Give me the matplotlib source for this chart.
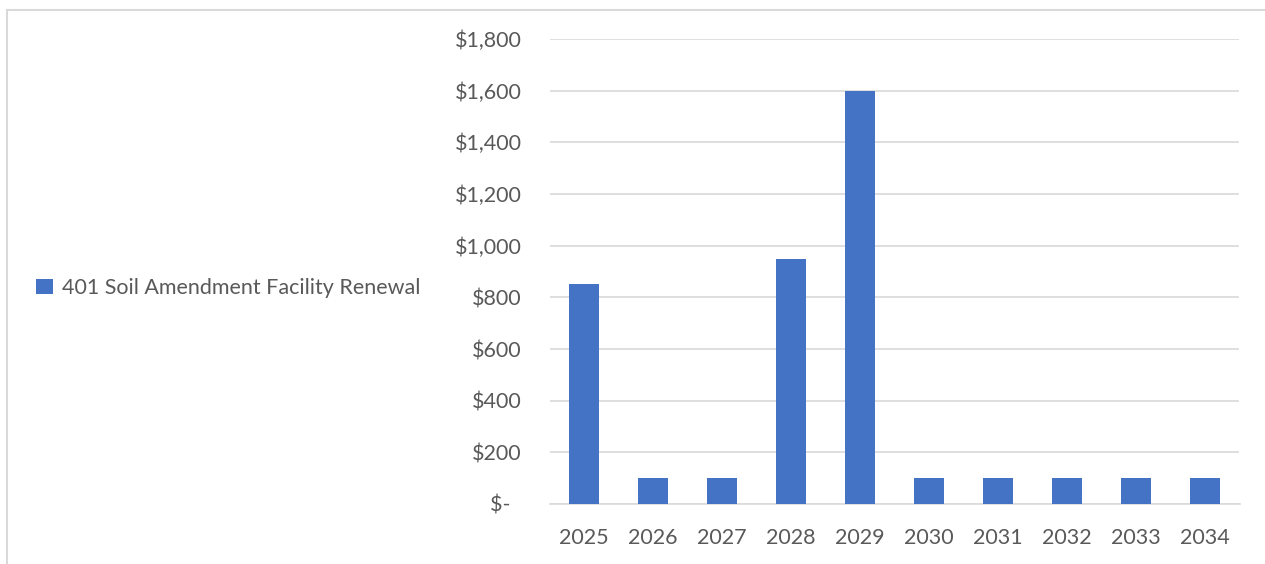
import matplotlib.pyplot as plt
from matplotlib.patches import Rectangle, Patch
from matplotlib.ticker import FuncFormatter, MultipleLocator

# Yearly renewal spend
years = ['2025', '2026', '2027', '2028', '2029', '2030', '2031', '2032', '2033', '2034']
spend = [850, 100, 100, 950, 1600, 100, 100, 100, 100, 100]
series_name = '401 Soil Amendment Facility Renewal'

plt.rcParams['font.family'] = ['Lato', 'DejaVu Sans']
text_color = '#595959'
grid_color = '#D9D9D9'
bar_color = '#4472C4'

W, H = 1265, 564
fig = plt.figure(figsize=(W / 100, H / 100), dpi=100)

# Chart frame (runs off the right and bottom edges)
fig.patches.append(Rectangle((7 / W, -0.1), 1.2, 1 - 10 / H + 0.1, transform=fig.transFigure,
                             fill=False, edgecolor=grid_color, linewidth=1.5))

ax = fig.add_axes([549.5 / W, 60 / H, 690 / W, 465 / H])
x = range(len(years))
ax.bar(x, spend, width=0.44, color=bar_color, zorder=3)

ax.set_xlim(-0.5, len(years) - 0.5)
ax.set_ylim(0, 1800)
ax.set_xticks(list(x))
ax.set_xticklabels(years)
ax.yaxis.set_major_locator(MultipleLocator(200))


def money(v, pos):
    if v == 0:
        return '$-  '
    return f'${v:,.0f}'


ax.yaxis.set_major_formatter(FuncFormatter(money))
ax.tick_params(axis='both', length=0, labelsize=15.5, colors=text_color)
ax.tick_params(axis='y', pad=20)
ax.tick_params(axis='x', pad=17)

ax.grid(axis='y', color=grid_color, linewidth=1.2, zorder=0)
for s in ['top', 'right', 'left']:
    ax.spines[s].set_visible(False)
ax.spines['bottom'].set_color(grid_color)
ax.spines['bottom'].set_linewidth(1.2)

# Legend on the left
handle = Patch(facecolor=bar_color, edgecolor='none')
fig.legend([handle], [series_name], loc='center left', bbox_to_anchor=(17 / W, 276 / H),
           frameon=False, fontsize=15.5, labelcolor=text_color,
           handlelength=0.75, handleheight=0.75, handletextpad=0.45)

fig.savefig('out.png', dpi=100)
